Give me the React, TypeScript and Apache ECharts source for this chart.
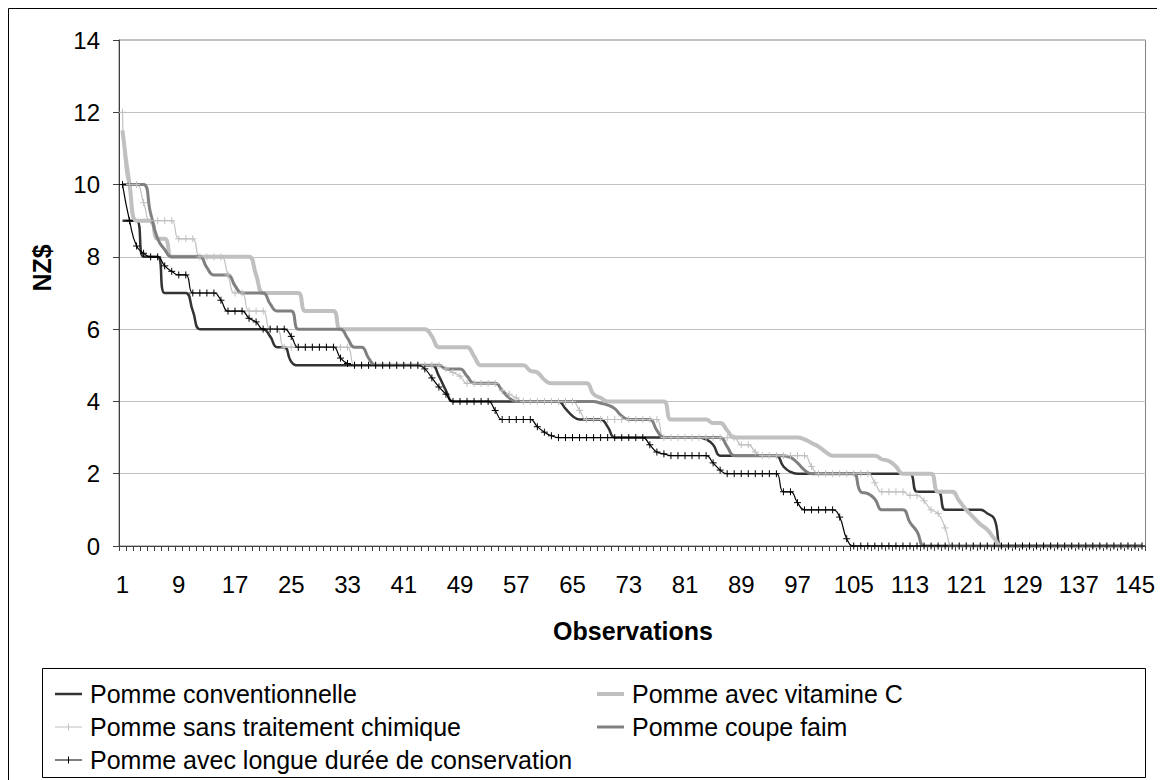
import React, { useEffect, useRef } from "react";
import * as echarts from "echarts";

const categories: string[] = [];
for (let i = 1; i <= 146; i++) categories.push(String(i));

const seriesNames = [
  "Pomme conventionnelle",
  "Pomme avec vitamine C",
  "Pomme sans traitement chimique",
  "Pomme coupe faim",
  "Pomme avec longue durée de conservation",
];

// values for observations 1..146
const conv = [
  9, 9, 9, 8, 8, 8, 7, 7, 7, 7,
  6.5, 6, 6, 6, 6, 6, 6, 6, 6, 6,
  6, 5.8, 5.5, 5.5, 5.1, 5, 5, 5, 5, 5,
  5, 5, 5, 5, 5, 5, 5, 5, 5, 5,
  5, 5, 5, 5, 5, 4.7, 4.3, 4, 4, 4,
  4, 4, 4, 4, 4, 4, 4, 4, 4, 4,
  4, 4, 4, 3.8, 3.6, 3.5, 3.5, 3.5, 3.5, 3.3,
  3, 3, 3, 3, 3, 3, 3, 3, 3, 3,
  3, 3, 3, 2.95, 2.8, 2.5, 2.5, 2.5, 2.5, 2.5,
  2.5, 2.5, 2.5, 2.5, 2.2, 2.05, 2, 2, 2, 2,
  2, 2, 2, 2, 2, 2, 2, 2, 2, 2,
  2, 2, 2, 1.5, 1.5, 1.5, 1.5, 1, 1, 1,
  1, 1, 1, 0.9, 0.75, 0, 0, 0, 0, 0,
  0, 0, 0, 0, 0, 0, 0, 0, 0, 0,
  0, 0, 0, 0, 0, 0,
];

const vitc = [
  11.5, 10, 9, 9, 9, 8.5, 8.5, 8, 8, 8,
  8, 8, 8, 8, 8, 8, 8, 8, 8, 7.5,
  7, 7, 7, 7, 7, 7, 6.5, 6.5, 6.5, 6.5,
  6.5, 6, 6, 6, 6, 6, 6, 6, 6, 6,
  6, 6, 6, 6, 5.8, 5.5, 5.5, 5.5, 5.5, 5.5,
  5.25, 5, 5, 5, 5, 5, 5, 5, 4.85, 4.8,
  4.6, 4.5, 4.5, 4.5, 4.5, 4.5, 4.5, 4.2, 4.1, 4,
  4, 4, 4, 4, 4, 4, 4, 4, 3.5, 3.5,
  3.5, 3.5, 3.5, 3.5, 3.4, 3.4, 3.2, 3, 3, 3,
  3, 3, 3, 3, 3, 3, 3, 2.95, 2.85, 2.75,
  2.6, 2.5, 2.5, 2.5, 2.5, 2.5, 2.5, 2.5, 2.4, 2.35,
  2.2, 2, 2, 2, 2, 2, 1.5, 1.5, 1.5, 1.25,
  1, 0.8, 0.6, 0.45, 0.2, 0, 0, 0, 0, 0,
  0, 0, 0, 0, 0, 0, 0, 0, 0, 0,
  0, 0, 0, 0, 0, 0,
];

const sans = [
  12, 10, 10, 9.5, 9, 9, 9, 9, 8.5, 8.5,
  8.5, 8, 8, 8, 8, 7.5, 7, 7, 6.5, 6.5,
  6.5, 6, 6, 5.5, 5.5, 5.5, 5.5, 5.5, 5.5, 5.5,
  5.5, 5.5, 5.5, 5, 5, 5, 5, 5, 5, 5,
  5, 5, 5, 5, 5, 5, 4.9, 4.8, 4.7, 4.5,
  4.5, 4.5, 4.5, 4.5, 4.3, 4.2, 4.1, 4, 4, 4,
  4, 4, 4, 4, 4, 3.75, 3.5, 3.5, 3.5, 3.5,
  3.5, 3.5, 3.5, 3.5, 3.5, 3.5, 3.5, 3, 3, 3,
  3, 3, 3, 3, 3, 3, 3, 3, 2.8, 2.8,
  2.6, 2.5, 2.5, 2.5, 2.5, 2.5, 2.5, 2.5, 2.2, 2,
  2, 2, 2, 2, 2, 2, 2, 1.75, 1.5, 1.5,
  1.5, 1.5, 1.4, 1.4, 1.25, 1, 0.9, 0.5, 0, 0,
  0, 0, 0, 0, 0, 0, 0, 0, 0, 0,
  0, 0, 0, 0, 0, 0, 0, 0, 0, 0,
  0, 0, 0, 0, 0, 0,
];

const coupe = [
  10, 10, 10, 10, 9.2, 8.5, 8.2, 8, 8, 8,
  8, 8, 7.7, 7.5, 7.5, 7.5, 7.2, 7, 7, 7,
  7, 6.7, 6.5, 6.5, 6.5, 6, 6, 6, 6, 6,
  6, 6, 5.75, 5.5, 5.5, 5.2, 5, 5, 5, 5,
  5, 5, 5, 5, 5, 5, 4.9, 4.9, 4.9, 4.7,
  4.5, 4.5, 4.5, 4.5, 4.3, 4.1, 4, 4, 4, 4,
  4, 4, 4, 4, 4, 4, 4, 4, 3.95, 3.9,
  3.8, 3.6, 3.5, 3.5, 3.5, 3.5, 3.2, 3, 3, 3,
  3, 3, 3, 3, 3, 3, 2.75, 2.5, 2.5, 2.5,
  2.5, 2.5, 2.5, 2.5, 2.5, 2.45, 2.3, 2.1, 2, 2,
  2, 2, 2, 2, 2, 1.5, 1.45, 1.3, 1, 1,
  1, 1, 0.65, 0.4, 0, 0, 0, 0, 0, 0,
  0, 0, 0, 0, 0, 0, 0, 0, 0, 0,
  0, 0, 0, 0, 0, 0, 0, 0, 0, 0,
  0, 0, 0, 0, 0, 0,
];

const longue = [
  10, 9, 8.3, 8.1, 8, 8, 7.75, 7.6, 7.5, 7.5,
  7, 7, 7, 7, 6.8, 6.5, 6.5, 6.5, 6.3, 6.2,
  6, 6, 6, 6, 5.8, 5.5, 5.5, 5.5, 5.5, 5.5,
  5.5, 5.2, 5.05, 5, 5, 5, 5, 5, 5, 5,
  5, 5, 5, 4.9, 4.65, 4.4, 4.2, 4, 4, 4,
  4, 4, 4, 3.75, 3.5, 3.5, 3.5, 3.5, 3.5, 3.3,
  3.15, 3.05, 3, 3, 3, 3, 3, 3, 3, 3,
  3, 3, 3, 3, 3, 2.8, 2.6, 2.55, 2.5, 2.5,
  2.5, 2.5, 2.5, 2.5, 2.3, 2.1, 2, 2, 2, 2,
  2, 2, 2, 2, 1.5, 1.5, 1.2, 1, 1, 1,
  1, 1, 0.8, 0.2, 0, 0, 0, 0, 0, 0,
  0, 0, 0, 0, 0, 0, 0, 0, 0, 0,
  0, 0, 0, 0, 0, 0, 0, 0, 0, 0,
  0, 0, 0, 0, 0, 0, 0, 0, 0, 0,
  0, 0, 0, 0, 0, 0,
];

const yTicks = { min: 0, max: 14, interval: 2 };

export default function App() {
  const ref = useRef<HTMLDivElement>(null);
  useEffect(() => {
    if (!ref.current) return;
    const chart = echarts.init(ref.current, null, { renderer: "svg" });
    const FONT = "'Liberation Sans', Arial, sans-serif";
    const plus = "path://M0,4H8M4,0V8";
    const iconPlus = "path://M0,3H27V4H0ZM13,0H14V7H13Z";
    const legendText = {
      fontSize: 25,
      lineHeight: 26,
      color: "#000",
      fontFamily: FONT,
      padding: [0, 0, 0, 3],
    };
    const common = {
      orient: "vertical",
      top: 668,
      itemWidth: 27,
      itemHeight: 14,
      itemGap: 7,
      selectedMode: false,
      textStyle: legendText,
    };
    chart.setOption({
      animation: false,
      backgroundColor: "#ffffff",
      textStyle: { fontFamily: FONT },
      grid: {
        left: 111,
        right: 10,
        top: 32,
        bottom: 234,
        show: true,
        borderColor: "#808080",
        borderWidth: 1,
      },
      xAxis: {
        type: "category",
        data: categories,
        boundaryGap: true,
        axisLine: { lineStyle: { color: "#404040", width: 1 } },
        axisTick: {
          show: true,
          interval: 0,
          length: 5,
          alignWithLabel: false,
          lineStyle: { color: "#404040" },
        },
        axisLabel: {
          interval: 7,
          fontSize: 24,
          color: "#000",
          margin: 26,
          fontFamily: FONT,
        },
        splitLine: { show: false },
      },
      yAxis: {
        type: "value",
        min: yTicks.min,
        max: yTicks.max,
        interval: yTicks.interval,
        axisLine: { show: true, lineStyle: { color: "#404040" } },
        axisTick: { show: true, length: 6, lineStyle: { color: "#404040" } },
        axisLabel: { fontSize: 24, color: "#000", margin: 19, fontFamily: FONT },
        splitLine: { lineStyle: { color: "#c0c0c0", width: 1 } },
      },
      legend: [
        {
          ...common,
          left: 42,
          data: [
            { name: seriesNames[0], icon: "path://M0,0H27V2.5H0Z" },
            { name: seriesNames[2], icon: iconPlus, itemStyle: { borderWidth: 0 } },
            { name: seriesNames[4], icon: iconPlus, itemStyle: { borderWidth: 0 } },
          ],
        },
        {
          ...common,
          left: 584,
          data: [
            { name: seriesNames[1], icon: "path://M0,0H27V4H0Z" },
            { name: seriesNames[3], icon: "path://M0,0H27V3H0Z" },
          ],
        },
      ],
      graphic: [
        {
          type: "rect",
          silent: true,
          shape: { x: 0.5, y: 0.5, width: 1149, height: 820 },
          style: { fill: "none", stroke: "#000", lineWidth: 1 },
        },
        {
          type: "rect",
          silent: true,
          shape: { x: 34.5, y: 660.5, width: 1103, height: 109 },
          style: { fill: "none", stroke: "#000", lineWidth: 1 },
        },
        {
          type: "text",
          silent: true,
          x: 34,
          y: 260,
          rotation: Math.PI / 2,
          style: {
            text: "NZ$",
            fontSize: 25,
            fontWeight: "bold",
            fontFamily: FONT,
            fill: "#000",
            textAlign: "center",
            textVerticalAlign: "middle",
          },
        },
        {
          type: "text",
          silent: true,
          x: 625,
          y: 623,
          style: {
            text: "Observations",
            fontSize: 25,
            fontWeight: "bold",
            fontFamily: FONT,
            fill: "#000",
            textAlign: "center",
            textVerticalAlign: "middle",
          },
        },
      ],
      series: [
        {
          name: seriesNames[0],
          type: "line",
          data: conv,
          smooth: 0.5,
          symbol: "none",
          lineStyle: { color: "#333333", width: 2.5 },
          itemStyle: { color: "#333333" },
        },
        {
          name: seriesNames[1],
          type: "line",
          data: vitc,
          smooth: 0.5,
          symbol: "none",
          lineStyle: { color: "#c0c0c0", width: 4 },
          itemStyle: { color: "#c0c0c0" },
        },
        {
          name: seriesNames[2],
          type: "line",
          data: sans,
          smooth: 0.5,
          symbol: plus,
          symbolSize: 7,
          showSymbol: true,
          showAllSymbol: true,
          lineStyle: { color: "#c0c0c0", width: 1.2 },
          itemStyle: { color: "#c0c0c0", borderColor: "#c0c0c0", borderWidth: 1 },
        },
        {
          name: seriesNames[3],
          type: "line",
          data: coupe,
          smooth: 0.5,
          symbol: "none",
          lineStyle: { color: "#808080", width: 3 },
          itemStyle: { color: "#808080" },
        },
        {
          name: seriesNames[4],
          type: "line",
          data: longue,
          smooth: 0.5,
          symbol: plus,
          symbolSize: 7,
          showSymbol: true,
          showAllSymbol: true,
          lineStyle: { color: "#000000", width: 1.2 },
          itemStyle: { color: "#000000", borderColor: "#000000", borderWidth: 1 },
        },
      ],
    });
    return () => chart.dispose();
  }, []);
  return <div ref={ref} style={{ width: 1150, height: 772 }} />;
}
